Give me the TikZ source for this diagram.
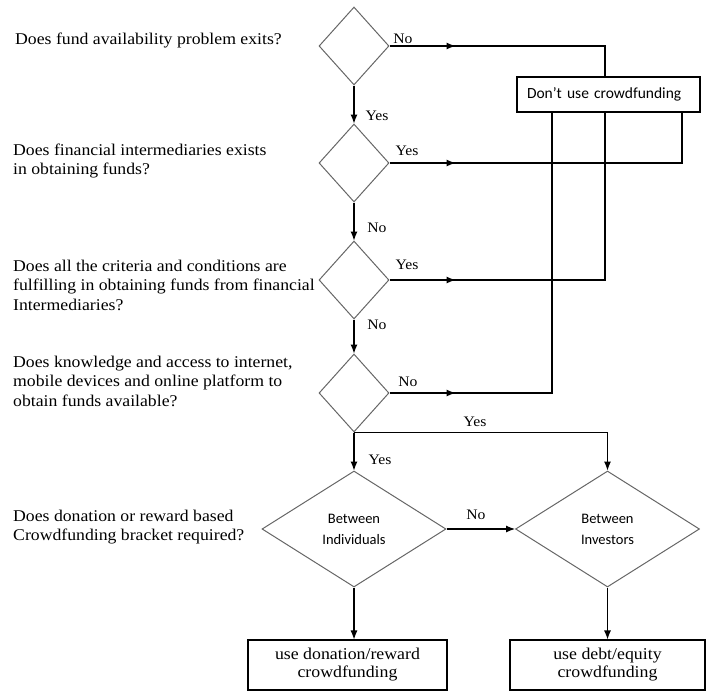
\documentclass[tikz,border=0pt]{standalone}
\usepackage{fontspec}
\setmainfont[FakeStretch=1.08]{Liberation Serif}
\newfontfamily\boxfont{Carlito}
\usetikzlibrary{shapes.geometric,arrows.meta,positioning,decorations.markings}

\begin{document}
\begin{tikzpicture}[x=1pt,y=-1pt]
    \tikzstyle{question} = [anchor=west, align=left, inner sep=0pt,
               font=\fontsize{16.4}{19.5}\selectfont]
    \tikzstyle{decision} = [diamond, draw=black!60, line width=1pt,
               minimum width=70pt, minimum height=78pt, inner sep=0pt]
    \tikzstyle{bigdecision} = [decision, minimum width=184pt, minimum height=116pt,
               align=center, font=\boxfont\fontsize{14.5}{21}\selectfont]
    \tikzstyle{result} = [rectangle, draw, line width=1.1pt, minimum width=199pt,
               minimum height=50pt, align=center, font=\fontsize{16.5}{18}\selectfont]
    \tikzstyle{answer} = [inner sep=0pt, font=\fontsize{14.5}{16}\selectfont]
    \tikzstyle{line} = [draw, line width=1.1pt, -{Latex[length=9pt,width=7pt]}]
    \tikzstyle{midline} = [draw, line width=1.1pt, postaction={decorate},
               decoration={markings, mark=at position 66pt with {\arrow{Latex[length=9pt,width=7pt]}}}]

    \useasboundingbox (0,0) rectangle (707,696);

    % Questions on the left
    \node[question] (q1) at (15,40) {Does fund availability problem exits?};
    \node[question] (q2) at (13,161) {Does financial intermediaries exists\\in obtaining funds?};
    \node[question] (q3) at (13,285) {Does all the criteria and conditions are\\fulfilling in obtaining funds from financial\\Intermediaries?};
    \node[question] (q4) at (13,381) {Does knowledge and access to internet,\\mobile devices and online platform to\\obtain funds available?};
    \node[question] (q5) at (13,527) {Does donation or reward based\\Crowdfunding bracket required?};

    % Decisions
    \node[decision] (d1) at (354,46) {};
    \node[decision] (d2) at (354,163) {};
    \node[decision] (d3) at (354,280) {};
    \node[decision] (d4) at (354,393) {};
    \node[bigdecision] (dind) at (354,529) {Between\\Individuals};
    \node[bigdecision] (dinv) at (607.5,529) {Between\\Investors};

    % Outcomes
    \node[rectangle, draw, line width=1.1pt, minimum height=35pt, text width=163pt,
          inner xsep=10pt, align=left, font=\boxfont\fontsize{15.5}{16}\selectfont]
          (stop) at (608.5,94.5) {Don’t use crowdfunding};
    \node[result] (bdon) at (347.5,665) {use donation/reward\\crowdfunding};
    \node[result, minimum width=195pt] (bdebt) at (607.5,665) {use debt/equity\\crowdfunding};

    % Turning points of the long connectors
    \coordinate (j1) at (605,46);
    \coordinate (j2) at (682,163);
    \coordinate (j3) at (605,280);
    \coordinate (j4) at (552,393);

    % Connectors to "Don't use crowdfunding"
    \draw[midline] (d1.east) -- (j1) -- (j1 |- stop.north);
    \draw[midline] (d2.east) -- (j2) -- (j2 |- stop.south);
    \draw[midline] (d3.east) -- (j3) -- (j3 |- stop.south);
    \draw[midline] (d4.east) -- (j4) -- (j4 |- stop.south);

    % Main flow
    \draw[line] (d1.south) -- (d2.north);
    \draw[line] (d2.south) -- (d3.north);
    \draw[line] (d3.south) -- (d4.north);
    \draw[line] (d4.south) -- (dind.north);
    \draw[line] (d4.south) -| (dinv.north);
    \draw[line] (dind.east) -- (dinv.west);
    \draw[line] (dind.south) -- (dind.south |- bdon.north);
    \draw[line] (dinv.south) -- (bdebt.north);

    % Answers
    \node[answer] (a1) at (403,39) {No};
    \node[answer] (a2) at (377,116) {Yes};
    \node[answer] (a3) at (407,151) {Yes};
    \node[answer] (a4) at (377,228) {No};
    \node[answer] (a5) at (407,265) {Yes};
    \node[answer] (a6) at (377,325) {No};
    \node[answer] (a7) at (408,382) {No};
    \node[answer] (a8) at (475,422) {Yes};
    \node[answer] (a9) at (380,460) {Yes};
    \node[answer] (a10) at (476,515) {No};

\end{tikzpicture}
\end{document}
